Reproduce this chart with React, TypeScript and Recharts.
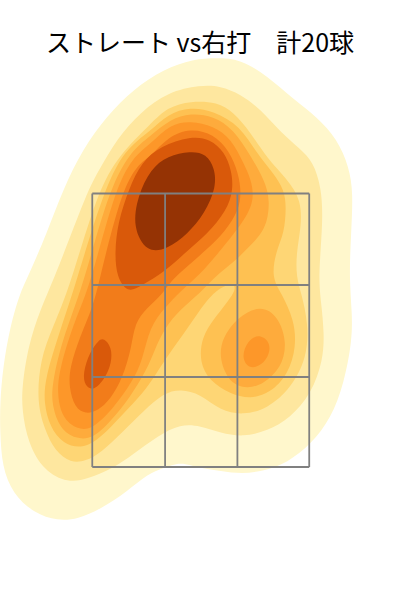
import { Scatter, ScatterChart, XAxis, YAxis } from 'recharts'

const title = 'ストレート vs右打　計20球'

// density contours, [horizontal offset from plate centre, height above zone bottom]
const level1 = [[-7,408],[16,409],[40,408],[67,391],[93,368],[117,350],[137,328],[149,300],[153,274],[151,234],[149,190],[152,154],[152,127],[144,84],[131,49],[111,23],[87,4],[63,-4],[42,-7],[20,-4],[0,-1],[-10,2],[-20,4],[-29,2],[-37,-1],[-53,-7],[-73,-24],[-100,-42],[-123,-52],[-143,-54],[-167,-46],[-188,-27],[-199,0],[-201,37],[-201,64],[-198,100],[-191,140],[-181,174],[-173,190],[-154,234],[-138,277],[-118,318],[-94,351],[-67,378],[-37,398]]
const level2 = [[0,382],[20,381],[40,373],[60,358],[80,335],[100,318],[113,305],[121,280],[123,247],[118,190],[121,164],[124,134],[123,107],[111,73],[90,49],[67,36],[43,30],[20,34],[0,41],[-20,43],[-43,31],[-67,13],[-87,-1],[-113,-12],[-133,-16],[-157,-4],[-173,24],[-179,57],[-179,80],[-173,120],[-161,157],[-143,197],[-114,275],[-101,298],[-84,328],[-60,355],[-33,375]]
const level3 = [[-10,366],[17,365],[33,355],[50,335],[67,308],[87,288],[101,267],[101,240],[96,214],[96,190],[101,174],[108,144],[107,110],[91,79],[67,58],[43,52],[20,56],[0,73],[-20,78],[-37,74],[-57,56],[-77,36],[-100,14],[-115,6],[-130,4],[-146,16],[-156,37],[-164,64],[-161,107],[-148,140],[-131,180],[-104,274],[-81,313],[-50,343],[-33,360]]
const level4 = [[-10,360],[13,356],[40,341],[56,314],[73,294],[84,277],[86,260],[84,234],[76,217],[71,190],[81,174],[94,147],[96,120],[88,93],[70,74],[50,68],[30,73],[9,86],[-1,105],[1,129],[13,148],[37,177],[33,184],[20,180],[6,167],[-14,137],[-31,114],[-44,94],[-58,73],[-78,53],[-100,29],[-118,18],[-138,23],[-151,40],[-157,64],[-156,87],[-144,127],[-126,180],[-98,274],[-76,318],[-50,336],[-33,353]]
const level5 = [[-10,354],[13,351],[33,338],[51,310],[64,287],[70,267],[66,237],[47,219],[35,206],[15,191],[0,174],[-20,158],[-36,139],[-46,117],[-54,97],[-71,69],[-90,46],[-108,28],[-125,28],[-141,38],[-149,62],[-149,82],[-139,127],[-118,180],[-93,274],[-71,315],[-50,331],[-30,348]]
const level5Right = [[60,162],[78,151],[87,124],[81,99],[63,83],[47,78],[29,84],[19,107],[21,128],[37,150]]
const level6 = [[-10,346],[13,341],[31,328],[43,304],[51,287],[54,267],[44,246],[17,213],[0,193],[-20,176],[-36,159],[-51,140],[-58,107],[-68,86],[-87,59],[-108,38],[-123,37],[-139,49],[-144,74],[-141,100],[-126,147],[-111,180],[-87,274],[-68,310],[-50,323],[-30,343]]
const level6Right = [[58,133],[69,126],[70,114],[61,101],[48,98],[41,110],[47,126]]
const level7 = [[-10,339],[13,333],[29,316],[38,294],[41,274],[38,256],[25,236],[7,218],[-13,201],[-30,186],[-38,173],[-54,159],[-66,144],[-69,120],[-78,89],[-90,68],[-103,56],[-115,53],[-126,59],[-132,80],[-131,100],[-121,130],[-108,160],[-103,180],[-80,274],[-63,303],[-50,310],[-33,330]]
const level8 = [[-10,331],[10,328],[24,315],[31,297],[33,277],[26,256],[7,233],[-17,213],[-35,196],[-60,181],[-73,174],[-84,190],[-86,214],[-83,244],[-72,278],[-59,305],[-40,321]]
const level8Low = [[-97,129],[-89,120],[-89,104],[-96,88],[-107,76],[-116,81],[-118,94],[-111,115],[-102,127]]
const level9 = [[-10,316],[6,313],[14,299],[16,280],[4,253],[-13,233],[-33,218],[-54,214],[-68,240],[-63,271],[-50,298],[-33,311]]

// strike zone lines
const zoneX = [-108.5, -35.5, 37, 109]
const zoneY = [0, 90, 182, 273.5]

const layers: [number[][], string][] = [
  [level1, '#FFF7CC'],
  [level2, '#FEE79F'],
  [level3, '#FED675'],
  [level4, '#FEC152'],
  [level5, '#FEAB3C'],
  [level5Right, '#FEAB3C'],
  [level6, '#FD9729'],
  [level6Right, '#FD9729'],
  [level7, '#F27C1A'],
  [level8, '#D9590A'],
  [level8Low, '#D9590A'],
  [level9, '#953304'],
]

const zoneLines = [
  ...zoneX.map((x) => [
    { x, y: zoneY[0] },
    { x, y: zoneY[3] },
  ]),
  ...zoneY.map((y) => [
    { x: zoneX[0], y },
    { x: zoneX[3], y },
  ]),
]

const noDot = () => <g />

function App() {
  return (
    <div style={{ position: 'absolute', left: 0, top: 0 }}>
      <ScatterChart
        width={400}
        height={600}
        margin={{ top: 0, right: 0, bottom: 0, left: 0 }}
      >
        <XAxis type="number" dataKey="x" domain={[-200, 200]} hide />
        <YAxis type="number" dataKey="y" domain={[-133, 467]} hide />
        {layers.map(([points, color], i) => (
          <Scatter
            key={i}
            data={points.map(([x, y]) => ({ x, y }))}
            fill={color}
            shape={noDot}
            line={{ fill: color, stroke: 'none' }}
            lineJointType="basisClosed"
            isAnimationActive={false}
          />
        ))}
        {zoneLines.map((points, i) => (
          <Scatter
            key={i}
            data={points}
            fill="#808080"
            shape={noDot}
            line={{ stroke: '#808080', strokeWidth: 1.8 }}
            isAnimationActive={false}
          />
        ))}
        <text
          x={200}
          y={52}
          textAnchor="middle"
          fontSize={25}
          fontFamily="'Noto Sans CJK JP', sans-serif"
          fill="#000"
        >
          {title}
        </text>
      </ScatterChart>
    </div>
  )
}

export default App
